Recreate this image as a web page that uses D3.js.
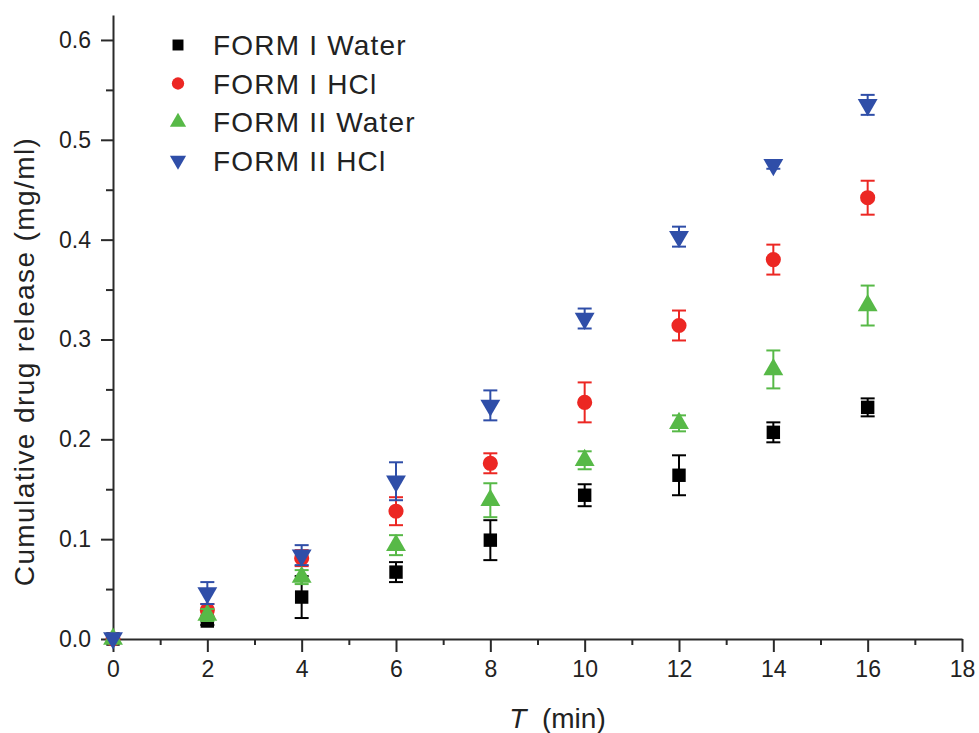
<!DOCTYPE html>
<html>
<head>
<meta charset="utf-8">
<script src="https://cdn.jsdelivr.net/npm/d3@7.9.0/dist/d3.min.js"></script>
<style>
  html, body { margin: 0; padding: 0; background: #fff; }
  svg { display: block; font-family: "Liberation Sans", Arial, sans-serif; }
</style>
</head>
<body>
<svg id="chart" width="979" height="733"></svg>
<script>
"use strict";

// time points (min)
const time = [0, 2, 4, 6, 8, 10, 12, 14, 16];

// cumulative drug release (mg/ml) and error bars
const formIWater = [0, 0.018, 0.042, 0.067, 0.099, 0.144, 0.164, 0.207, 0.232];
const formIWaterErr = [0, 0.004, 0.021, 0.010, 0.020, 0.011, 0.020, 0.010, 0.009];
const formIHCl = [0, 0.029, 0.081, 0.128, 0.176, 0.237, 0.314, 0.380, 0.442];
const formIHClErr = [0, 0.006, 0.008, 0.014, 0.010, 0.020, 0.015, 0.015, 0.017];
const formIIWater = [0, 0.024, 0.062, 0.094, 0.139, 0.179, 0.216, 0.270, 0.334];
const formIIWaterErr = [0, 0.006, 0.007, 0.010, 0.017, 0.009, 0.008, 0.019, 0.020];
const formIIHCl = [0.001, 0.046, 0.084, 0.158, 0.234, 0.321, 0.403, 0.475, 0.535];
const formIIHClErr = [0, 0.011, 0.010, 0.019, 0.015, 0.010, 0.010, 0.004, 0.010];

const seriesNames = ["FORM I Water", "FORM I HCl", "FORM II Water", "FORM II HCl"];

// axis ticks
const xMajorTicks = [0, 2, 4, 6, 8, 10, 12, 14, 16, 18];
const xMinorTicks = [1, 3, 5, 7, 9, 11, 13, 15, 17];
const yMajorTicks = [0, 0.1, 0.2, 0.3, 0.4, 0.5, 0.6];
const yMinorTicks = [0.05, 0.15, 0.25, 0.35, 0.45, 0.55];

const series = [
    { name: seriesNames[0], values: formIWater, errors: formIWaterErr, color: "#000000", shape: "square" },
    { name: seriesNames[1], values: formIHCl, errors: formIHClErr, color: "#ec2723", shape: "circle" },
    { name: seriesNames[2], values: formIIWater, errors: formIIWaterErr, color: "#57b947", shape: "up" },
    { name: seriesNames[3], values: formIIHCl, errors: formIIHClErr, color: "#2f4ea8", shape: "down" },
];

const svg = d3.select("#chart");

const x = d3.scaleLinear().domain([0, 18]).range([113, 962]);
const y = d3.scaleLinear().domain([0, 0.625]).range([639, 15]);

const axisColor = "#2a2a2a";

// X axis
svg.append("g")
    .attr("transform", `translate(0, ${y(0)})`)
    .call(d3.axisBottom(x).tickValues(xMajorTicks).tickSize(13).tickSizeOuter(0).tickPadding(9));
svg.append("g")
    .attr("transform", `translate(0, ${y(0)})`)
    .call(d3.axisBottom(x).tickValues(xMinorTicks).tickSize(6).tickFormat(""))
    .call((g) => g.select(".domain").remove());

// Y axis
svg.append("g")
    .attr("transform", `translate(${x(0)}, 0)`)
    .call(d3.axisLeft(y).tickValues(yMajorTicks).tickSize(12).tickSizeOuter(0).tickPadding(10)
        .tickFormat(d3.format(".1f")));
svg.append("g")
    .attr("transform", `translate(${x(0)}, 0)`)
    .call(d3.axisLeft(y).tickValues(yMinorTicks).tickSize(7).tickFormat(""))
    .call((g) => g.select(".domain").remove());

svg.selectAll(".domain, .tick line")
    .attr("stroke", axisColor)
    .attr("stroke-width", 2);
svg.selectAll(".tick text")
    .attr("fill", "#222")
    .style("font-size", "23px")
    .style("font-family", "Liberation Sans, Arial, sans-serif");

// Axis titles
svg.append("text")
    .attr("transform", `translate(34, ${y(0.3) + 22}) rotate(-90)`)
    .attr("text-anchor", "middle")
    .attr("fill", "#222")
    .style("font-size", "28px")
    .style("letter-spacing", "1.4px")
    .text("Cumulative drug release (mg/ml)");

const xTitle = svg.append("text")
    .attr("x", x(9) + 20)
    .attr("y", 728)
    .attr("text-anchor", "middle")
    .attr("fill", "#222")
    .style("font-size", "28px");
xTitle.append("tspan").style("font-style", "italic").text("T");
xTitle.append("tspan").text("\u00a0\u00a0(min)");

// markers
function symbolPath(shape, size) {
    if (shape === "square") return d3.symbol(d3.symbolSquare, size)();
    if (shape === "circle") return d3.symbol(d3.symbolCircle, size)();
    return d3.symbol(d3.symbolTriangle, size * 0.95)();
}

function drawMarker(g, shape, color, cx, cy, size) {
    g.append("path")
        .attr("d", symbolPath(shape, size))
        .attr("transform", `translate(${cx}, ${cy})` + (shape === "down" ? " rotate(180)" : ""))
        .attr("fill", color);
}

const capHalf = 7;
for (const s of series) {
    const g = svg.append("g");
    const pts = time.map((t, i) => ({ t: t, v: s.values[i], e: s.errors[i] }));

    // error bars
    const bars = g.selectAll("g.err")
        .data(pts.filter((d) => d.e > 0))
        .join("g")
        .attr("class", "err")
        .attr("stroke", s.color)
        .attr("stroke-width", 2);
    bars.append("line")
        .attr("x1", (d) => x(d.t)).attr("x2", (d) => x(d.t))
        .attr("y1", (d) => y(d.v + d.e)).attr("y2", (d) => y(d.v - d.e));
    bars.append("line")
        .attr("x1", (d) => x(d.t) - capHalf).attr("x2", (d) => x(d.t) + capHalf)
        .attr("y1", (d) => y(d.v + d.e)).attr("y2", (d) => y(d.v + d.e));
    bars.append("line")
        .attr("x1", (d) => x(d.t) - capHalf).attr("x2", (d) => x(d.t) + capHalf)
        .attr("y1", (d) => y(d.v - d.e)).attr("y2", (d) => y(d.v - d.e));

    // points
    for (const d of pts) {
        drawMarker(g, s.shape, s.color, x(d.t), y(d.v), 180);
    }
}

// Legend
const legendX = 178;
const legendY = 45;
const legendStep = 38.5;
series.forEach((s, i) => {
    const cy = legendY + i * legendStep;
    drawMarker(svg, s.shape, s.color, legendX, cy, 120);
    svg.append("text")
        .attr("x", 213)
        .attr("y", cy)
        .attr("dy", "0.36em")
        .attr("fill", "#222")
        .style("font-size", "28px")
        .style("letter-spacing", "1.2px")
        .text(s.name);
});
</script>
</body>
</html>
